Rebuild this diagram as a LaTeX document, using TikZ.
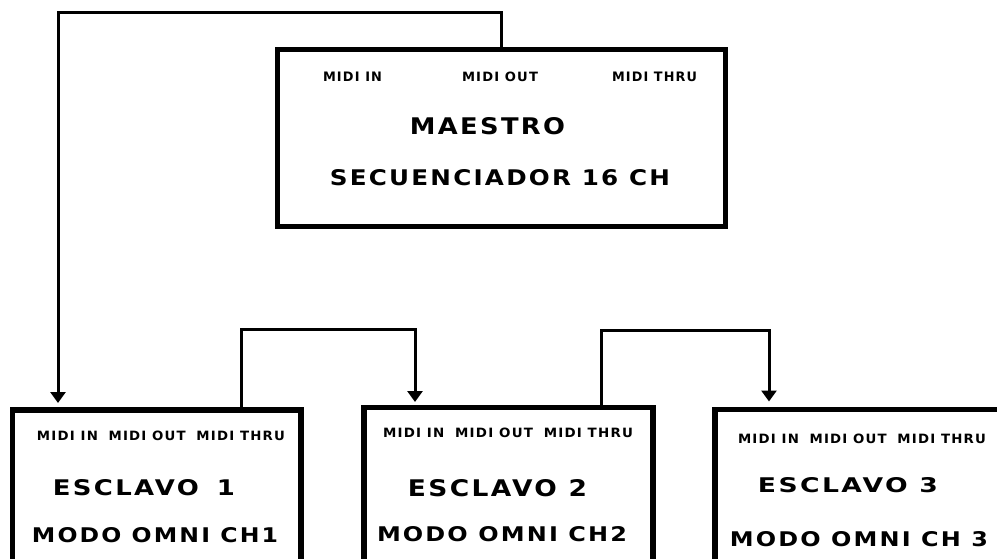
\documentclass[tikz,border=0pt]{standalone}
\usepackage{fontspec}
\usepackage{graphicx}
\usetikzlibrary{arrows.meta,calc}
\newfontfamily\boxfont[LetterSpace=9]{DejaVu Sans}
\newcommand\fitt[3]{\resizebox{#1pt}{#2pt}{\boxfont\bfseries #3}}
\tikzset{
  box/.style={draw, line width=5.5pt, rectangle, inner sep=0pt, outer sep=0pt},
  lbl/.style={inner sep=0pt, outer sep=0pt},
  conn/.style={line width=3pt},
  arr/.style={conn, -{Triangle[length=11pt,width=15pt]}},
}
\begin{document}
\begin{tikzpicture}[x=1pt,y=-1pt]
\useasboundingbox (0,0) rectangle (997,558);
\clip (0,0) rectangle (997,558);
% boxes
\node[box, minimum width=448pt, minimum height=177pt] (master) at (501.5,138) {};
\node[box, minimum width=288.5pt, minimum height=210pt] (s1) at (156.75,515) {};
\node[box, minimum width=289pt, minimum height=212.5pt] (s2) at (508.5,513.75) {};
\node[box, minimum width=295pt, minimum height=210.5pt] (s3) at (862.5,514.75) {};
% port coordinates
\coordinate (s1in) at ([xshift=45.5pt,yshift=7pt]s1.north west);
\coordinate (s1out) at ([xshift=228.5pt]s1.north west);
\coordinate (s2in) at ([xshift=51pt,yshift=5.5pt]s2.north west);
\coordinate (s2out) at ([xshift=237pt]s2.north west);
\coordinate (s3in) at ([xshift=54pt,yshift=8pt]s3.north west);
% connectors
\draw[arr] (master.north) -- ++(0,-37) -| (s1in);
\draw[arr] (s1out) -- ++(0,-80.5) -| (s2in);
\draw[arr] (s2out) -- ++(0,-77.5) -| (s3in);
% master texts
\node[lbl] (m-in) at (352.5,77) {\fitt{59}{9.5}{MIDI IN}};
\node[lbl] (m-out) at (500,77) {\fitt{76}{9.5}{MIDI OUT}};
\node[lbl] (m-thru) at (654.5,77) {\fitt{85}{9.5}{MIDI THRU}};
\node[lbl] (m-name) at (487.5,126.5) {\fitt{155}{17}{MAESTRO}};
\node[lbl] (m-seq) at (500,178) {\fitt{340}{16}{SECUENCIADOR 16 CH}};
% slave 1
\node[lbl] (s1-ports) at (161,436) {\fitt{248}{9.5}{MIDI IN\hspace{0.8em}MIDI OUT\hspace{0.8em}MIDI THRU}};
\node[lbl] (s1-name) at (144,488) {\fitt{182}{16}{ESCLAVO\hspace{0.7em}1}};
\node[lbl] (s1-mode) at (155,535.5) {\fitt{246}{15}{MODO OMNI CH1}};
% slave 2
\node[lbl] (s2-ports) at (508,432.5) {\fitt{250}{9.5}{MIDI IN\hspace{0.8em}MIDI OUT\hspace{0.8em}MIDI THRU}};
\node[lbl] (s2-name) at (497.5,488.5) {\fitt{179}{17}{ESCLAVO 2}};
\node[lbl] (s2-mode) at (502,534.5) {\fitt{250}{15}{MODO OMNI CH2}};
% slave 3
\node[lbl] (s3-ports) at (862,438.5) {\fitt{248}{9.5}{MIDI IN\hspace{0.8em}MIDI OUT\hspace{0.8em}MIDI THRU}};
\node[lbl] (s3-name) at (848,485.5) {\fitt{180}{15}{ESCLAVO 3}};
\node[lbl] (s3-mode) at (859,539.5) {\fitt{258}{15}{MODO OMNI CH 3}};
\end{tikzpicture}
\end{document}
